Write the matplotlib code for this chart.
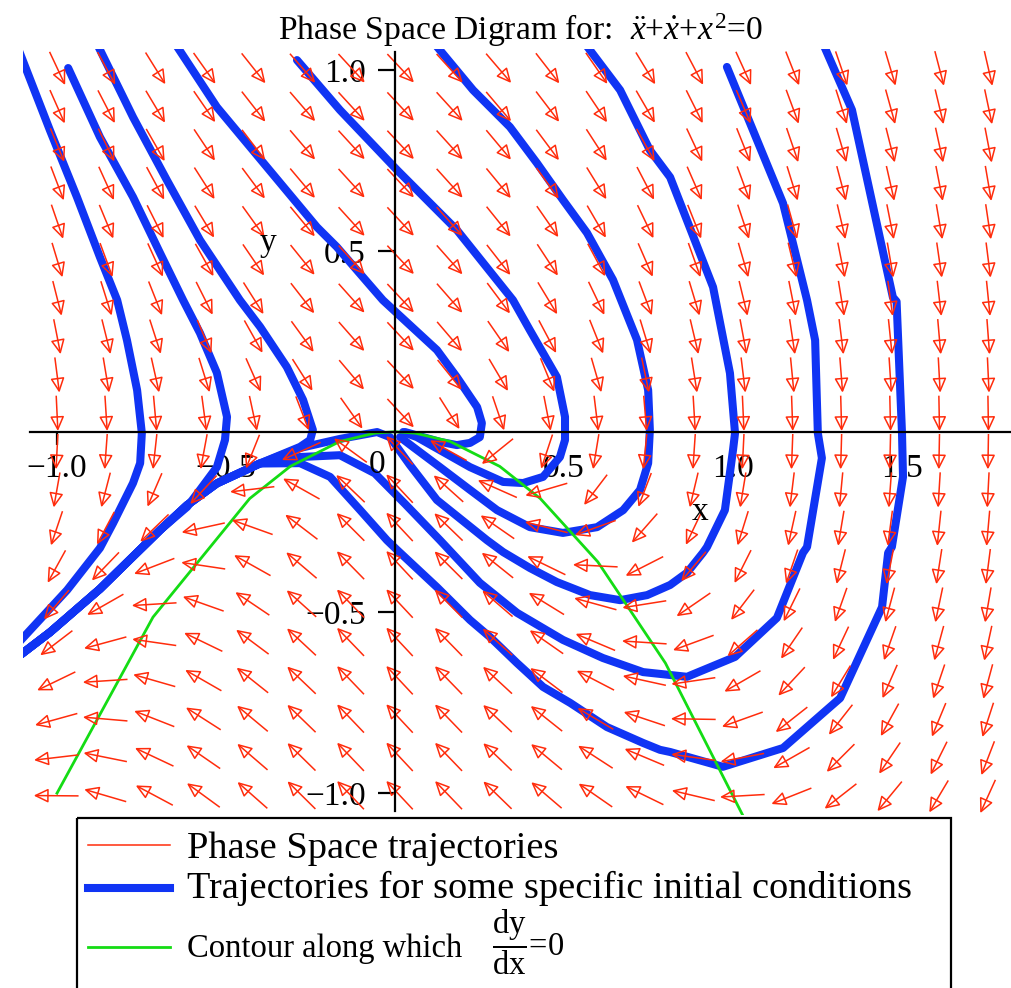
import numpy as np
import matplotlib
matplotlib.use("Agg")
import matplotlib.pyplot as plt
from matplotlib.collections import LineCollection, PolyCollection
from matplotlib.patches import Rectangle

plt.rcParams['font.family'] = ['Liberation Serif', 'DejaVu Serif']
plt.rcParams['mathtext.fontset'] = 'custom'
plt.rcParams['mathtext.rm'] = 'Liberation Serif'
plt.rcParams['mathtext.it'] = 'Liberation Serif:italic'

# ---------------- data ----------------
title_text = r'Phase Space Digram for:  $\ddot{x}$+$\dot{x}$+$x^{2}$=0'
x_ticks = [-1.0, -0.5, 0.5, 1.0, 1.5]
x_tick_labels = ['\u22121.0', '\u22120.5', '0.5', '1.0', '1.5']
y_ticks = [-1.0, -0.5, 0.5, 1.0]
y_tick_labels = ['\u22121.0', '\u22120.5', '0.5', '1.0']

# direction field grid (20 x 20)
arrow_cols = np.linspace(-1.0, 1.755, 20)
arrow_rows = np.linspace(-1.007, 1.007, 20)


def rhs(x, y):
    # x'' + x' + x^2 = 0  ->  x' = y , y' = -y - x^2
    return y, -y - x ** 2


# curves (x, y)
bundle_tail = [(-0.40, -0.088), (-0.527, -0.143), (-0.615, -0.203), (-0.695, -0.272),
               (-0.873, -0.435), (-1.021, -0.555), (-1.14, -0.64)]

traj_m075 = [(-1.115, 1.06), (-1.021, 0.834), (-0.941, 0.649), (-0.873, 0.483), (-0.822, 0.364),
             (-0.793, 0.253), (-0.763, 0.115), (-0.749, -0.004), (-0.754, -0.087), (-0.775, -0.142),
             (-0.834, -0.253), (-0.873, -0.322), (-0.970, -0.438), (-1.12, -0.59)]
traj_m050 = [(-0.967, 1.006), (-0.873, 0.815), (-0.775, 0.649), (-0.695, 0.494), (-0.627, 0.364),
             (-0.577, 0.273), (-0.527, 0.163), (-0.497, 0.041), (-0.503, -0.023), (-0.527, -0.098),
             (-0.577, -0.161), (-0.615, -0.208)] + bundle_tail[3:]
traj_m025 = [(-0.88, 1.07), (-0.775, 0.870), (-0.675, 0.696), (-0.577, 0.530), (-0.459, 0.364),
             (-0.399, 0.290), (-0.320, 0.179), (-0.272, 0.088), (-0.243, 0.005), (-0.251, -0.023),
             (-0.281, -0.042)] + bundle_tail
traj_025 = [(-0.655, 1.08), (-0.527, 0.898), (-0.379, 0.732), (-0.231, 0.566), (-0.172, 0.511),
            (-0.036, 0.364), (0.124, 0.226), (0.183, 0.151), (0.243, 0.068), (0.257, 0.024),
            (0.251, -0.015), (0.222, -0.031), (0.183, -0.037), (0.133, -0.028), (0.083, -0.015),
            (0.030, -0.001)]
traj_050 = [(-0.290, 1.028), (-0.163, 0.890), (0.006, 0.724), (0.183, 0.558), (0.349, 0.364),
            (0.399, 0.281), (0.479, 0.151), (0.503, 0.041), (0.503, -0.023), (0.488, -0.070),
            (0.438, -0.125), (0.379, -0.142), (0.320, -0.139), (0.222, -0.098), (0.133, -0.051),
            (0.065, -0.015), (0.024, -0.001)]
traj_075 = [(0.12, 1.07), (0.231, 0.945), (0.340, 0.843), (0.420, 0.743), (0.497, 0.641),
            (0.568, 0.550), (0.645, 0.420), (0.716, 0.254), (0.749, 0.115), (0.754, 0.005),
            (0.749, -0.087), (0.725, -0.161), (0.675, -0.217), (0.598, -0.264), (0.497, -0.280),
            (0.399, -0.264), (0.302, -0.217), (0.222, -0.161), (0.133, -0.098), (0.053, -0.042),
            (0.015, -0.015)]
traj_100 = [(0.565, 1.07), (0.666, 0.945), (0.754, 0.779), (0.814, 0.704), (0.941, 0.400),
            (0.991, 0.162), (1.006, -0.004), (1.0, -0.051), (0.976, -0.217), (0.923, -0.319),
            (0.911, -0.335), (0.864, -0.390), (0.814, -0.424), (0.746, -0.452), (0.666, -0.466),
            (0.577, -0.452), (0.479, -0.416), (0.399, -0.377), (0.320, -0.333), (0.272, -0.300),
            (0.124, -0.189), (0.044, -0.092), (-0.015, -0.015), (-0.053, -0.001), (-0.163, -0.020),
            (-0.281, -0.045)] + bundle_tail
traj_125 = [(0.982, 1.009), (1.148, 0.632), (1.219, 0.364), (1.243, 0.253), (1.251, -0.004),
            (1.263, -0.073), (1.219, -0.319), (1.207, -0.335), (1.130, -0.515), (1.006, -0.623),
            (0.864, -0.678), (0.734, -0.665), (0.615, -0.626), (0.497, -0.576), (0.361, -0.501),
            (0.251, -0.418), (0.133, -0.300), (0.030, -0.200), (-0.060, -0.115), (-0.163, -0.065),
            (-0.281, -0.070)] + bundle_tail
traj_150 = [(1.268, 1.07), (1.352, 0.890), (1.473, 0.372), (1.484, 0.36), (1.500, -0.004),
            (1.503, -0.125), (1.470, -0.319), (1.459, -0.335), (1.441, -0.485), (1.317, -0.737),
            (1.148, -0.875), (0.970, -0.927), (0.814, -0.886), (0.784, -0.880), (0.734, -0.861),
            (0.627, -0.817), (0.518, -0.750), (0.438, -0.706), (0.361, -0.640), (0.281, -0.568),
            (0.222, -0.521), (0.124, -0.430), (0.006, -0.327), (-0.024, -0.300), (-0.104, -0.216),
            (-0.192, -0.125), (-0.281, -0.087)] + bundle_tail

trajectories = [traj_m075, traj_m050, traj_m025, traj_025, traj_050, traj_075,
                traj_100, traj_125, traj_150]

# dy/dx = 0 contour
contour_x = [-1.0, -0.716, -0.43, -0.31, -0.163, -0.06, 0.0, 0.06, 0.163, 0.31, 0.43, 0.6,
             0.8, 1.05]
contour_y = [-1.0, -0.513, -0.185, -0.096, -0.027, -0.004, 0.0, -0.004, -0.027, -0.096,
             -0.185, -0.36, -0.64, -1.10]

legend_labels = ['Phase Space trajectories',
                 'Trajectories for some specific initial conditions',
                 'Contour along which']
legend_frac = r'$\dfrac{\mathrm{dy}}{\mathrm{dx}}$=0'

RED = '#ff2c0c'
BLUE = '#1034f4'
GREEN = '#14dc14'

# ---------------- layout ----------------
W, H = 1012, 988
SX, SY = 338.0, 361.5      # pixels per unit
X0, Y0 = 395.0, 431.7      # pixel position of the origin
XLIM = (-1.1, 1.83)
YLIM = (-1.06, 1.06)

fig = plt.figure(figsize=(W / 100, H / 100), dpi=100)
left = (X0 + XLIM[0] * SX) / W
bottom = 1 - (Y0 - YLIM[0] * SY) / H
ax = fig.add_axes([left, bottom, (XLIM[1] - XLIM[0]) * SX / W, (YLIM[1] - YLIM[0]) * SY / H])
ax.set_xlim(XLIM)
ax.set_ylim(YLIM)
ax.patch.set_visible(False)

# trajectories
for tr in trajectories:
    xs = [p[0] for p in tr]
    ys = [p[1] for p in tr]
    ax.plot(xs, ys, color=BLUE, lw=5.8, solid_joinstyle='round', solid_capstyle='round', zorder=2)

# contour
ax.plot(contour_x, contour_y, color=GREEN, lw=2.0, zorder=3)

# direction field arrows
cw = arrow_cols[1] - arrow_cols[0]
ch = arrow_rows[1] - arrow_rows[0]
shafts, heads = [], []
for gx in arrow_cols:
    for gy in arrow_rows:
        u, v = rhs(gx, gy)
        a, b = u / cw, v / ch
        n = np.hypot(a, b)
        px = 0.88 * cw * SX * a / n
        py = 0.88 * ch * SY * b / n
        L = np.hypot(px, py)
        ux, uy = px / L, py / L
        tail = (gx - px / 2 / SX, gy - py / 2 / SY)
        tip = (gx + px / 2 / SX, gy + py / 2 / SY)
        bx, by = px / 2 - 12.5 * ux, py / 2 - 12.5 * uy
        pl = (gx + (bx - 6 * uy) / SX, gy + (by + 6 * ux) / SY)
        pr = (gx + (bx + 6 * uy) / SX, gy + (by - 6 * ux) / SY)
        shafts.append([tail, tip])
        heads.append([tip, pl, pr])
ax.add_collection(LineCollection(shafts, colors=RED, linewidths=1.1, zorder=4))
ax.add_collection(PolyCollection(heads, closed=True, facecolors='none', edgecolors=RED,
                                 linewidths=1.1, zorder=4))

# axes through origin
for s in ['top', 'right']:
    ax.spines[s].set_visible(False)
ax.spines['left'].set_position(('data', 0))
ax.spines['bottom'].set_position(('data', 0))
ax.spines['left'].set_bounds(-1.05, 1.05)
ax.spines['bottom'].set_bounds(-1.08, 1.83)
for s in ['left', 'bottom']:
    ax.spines[s].set_linewidth(1.6)
    ax.spines[s].set_zorder(6)
ax.set_xticks(x_ticks)
ax.set_xticklabels(x_tick_labels)
ax.set_yticks(y_ticks)
ax.set_yticklabels(y_tick_labels)
ax.tick_params(axis='x', direction='out', length=9.5, width=1.6, pad=6, labelsize=24)
ax.tick_params(axis='y', direction='out', length=12.2, width=1.6, pad=9, labelsize=24)

# overlay in pixel coordinates for texts and legend
ov = fig.add_axes([0, 0, 1, 1], zorder=10)
ov.set_xlim(0, W)
ov.set_ylim(H, 0)
ov.axis('off')

ov.text(377, 465, '0', fontsize=24, ha='center', va='center')
ov.text(700, 512, 'x', fontsize=24, ha='center', va='center')
ov.text(268, 243, 'y', fontsize=24, ha='center', va='center')
ov.text(521, 30, title_text, fontsize=24.2, ha='center', va='center')

ov.add_patch(Rectangle((77, 818), 874, 200, fill=False, edgecolor='black', lw=1.6, clip_on=False))
ov.plot([88, 170], [845, 845], color=RED, lw=1.1)
ov.plot([88, 170], [888, 888], color=BLUE, lw=5.8)
ov.plot([88, 170], [947, 947], color=GREEN, lw=2.0)
ov.text(187, 858, legend_labels[0], fontsize=27.6, ha='left', va='baseline')
ov.text(187, 898, legend_labels[1], fontsize=27.6, ha='left', va='baseline')
ov.text(187, 957, legend_labels[2], fontsize=23.5, ha='left', va='baseline')
ov.text(492, 957, legend_frac, fontsize=23.5, ha='left', va='baseline')

fig.savefig('out.png', dpi=100)
